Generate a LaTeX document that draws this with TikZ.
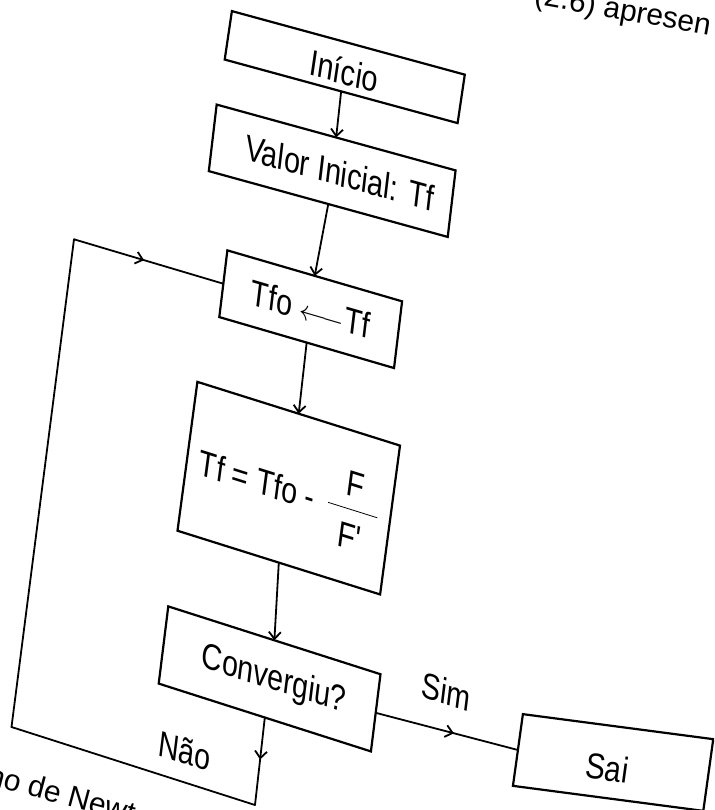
\documentclass[tikz,border=0pt]{standalone}
\usepackage{fontspec}
\newfontfamily\scanfont[Ligatures=TeXOff, FakeStretch=0.82]{Liberation Sans}
\newfontfamily\pagefont[Ligatures=TeXOff]{Liberation Sans}
\usetikzlibrary{arrows.meta,decorations.markings}

% lowers the content of a centred node by half of #1
\newcommand{\dropby}[2]{\raisebox{0pt}[\dimexpr\height+#1\relax][\depth]{#2}}
% tall fraction with a long bar, set in the text font
\newcommand{\tallfrac}[2]{$\vcenter{\hbox{\begin{tabular}{@{\hspace{7pt}}c@{\hspace{7pt}}}\rule[-6.5pt]{0pt}{0pt}#1\\\hline\rule{0pt}{19.4pt}#2\end{tabular}}}$}

\tikzset{
  txt/.style={font=\scanfont\fontsize{18}{21.6}\selectfont},
  pagetxt/.style={font=\pagefont\fontsize{15}{18}\selectfont, inner sep=0pt, anchor=base west},
  box/.style={txt, draw, line width=1.1pt, rectangle, inner sep=0pt, outer sep=0pt,
    transform shape, align=center},
  lbl/.style={txt, inner sep=0pt, transform shape},
  tipshape/.tip={Straight Barb[length=3.5pt,width=6pt]},
  link/.style={line width=0.9pt, -tipshape},
  wire/.style={line width=0.9pt, line cap=round},
  midtip/.style={postaction={decorate}, decoration={markings,
    mark=at position #1 with {\arrow{tipshape}}}},
}

\begin{document}
\begin{tikzpicture}[x=0.5pt, y=-0.5pt]
\fill[white] (0,0) rectangle (714,810);
\useasboundingbox (0,0) rectangle (714,810);
\clip (0,0) rectangle (714,810);

% flowchart boxes
\node[box, minimum width=120.7pt, minimum height=24.5pt,
  cm={0.9648,-0.2632,0.1468,0.9892,(0,0)}] (inicio) at (344.75,67.1) {\dropby{4pt}{Início}};
\node[box, minimum width=123.9pt, minimum height=33.5pt,
  cm={0.9641,-0.2656,0.1172,0.9931,(0,0)}] (valor) at (332.2,170.75) {\hspace*{8pt}Valor Inicial: Tf};
\node[box, minimum width=91pt, minimum height=33.6pt,
  cm={0.9600,-0.2800,0.1199,0.9928,(0,0)}] (tfo) at (310.7,309.2)
  {Tfo {\fontsize{14}{14}\selectfont$\longleftarrow$}Tf};
\node[box, minimum width=106.2pt, minimum height=75.1pt,
  cm={0.9539,-0.3000,0.1325,0.9912,(0,0)}] (formula) at (288.75,488.15)
  {\dropby{6pt}{Tf = Tfo -\hspace{7pt}\tallfrac{F}{F'}}};
\node[box, minimum width=111.4pt, minimum height=38.9pt,
  cm={0.9525,-0.3044,0.1228,0.9924,(0,0)}] (conv) at (269.6,678.9) {\hspace*{4.5pt}Convergiu?};
\node[box, minimum width=96pt, minimum height=36.2pt,
  cm={0.9914,-0.1303,0.1374,0.9905,(0,0)}] (sai) at (613.1,762.5) {\dropby{6pt}{Sai\hspace*{5pt}}};

% corners of the return loop
\coordinate (naocorner) at (255,805);
\coordinate (leftbottom) at (11.5,727);
\coordinate (lefttop) at (74,239.3);

% main sequence
\draw[link] (inicio.south) -- (valor.north);
\draw[link] (valor.south) -- (tfo.north);
\draw[link] (tfo.south) -- (formula.north);
\draw[link] (formula.south) -- (conv.north);

% exit branch
\draw[wire, midtip=0.55] (conv.east) -- (sai.west);

% return loop
\draw[wire, midtip=0.48] (conv.south) -- (naocorner);
\draw[wire] (naocorner) -- (leftbottom) -- (lefttop);
\draw[wire, midtip=0.47] (lefttop) -- (tfo.west);

% branch labels
\node[lbl, cm={0.9525,-0.3044,0.1228,0.9924,(0,0)}] (sim) at (446.7,691.7) {Sim};
\node[lbl, cm={0.9525,-0.3044,0.1228,0.9924,(0,0)}] (nao) at (185,751) {Não};

% surrounding page text
\node[pagetxt, rotate=-10] (pagetop) at (533,4) {(2.6) apresen};
\node[pagetxt, rotate=-15] (pagebottom) at (-14,784) {no de Newt};
\end{tikzpicture}
\end{document}
